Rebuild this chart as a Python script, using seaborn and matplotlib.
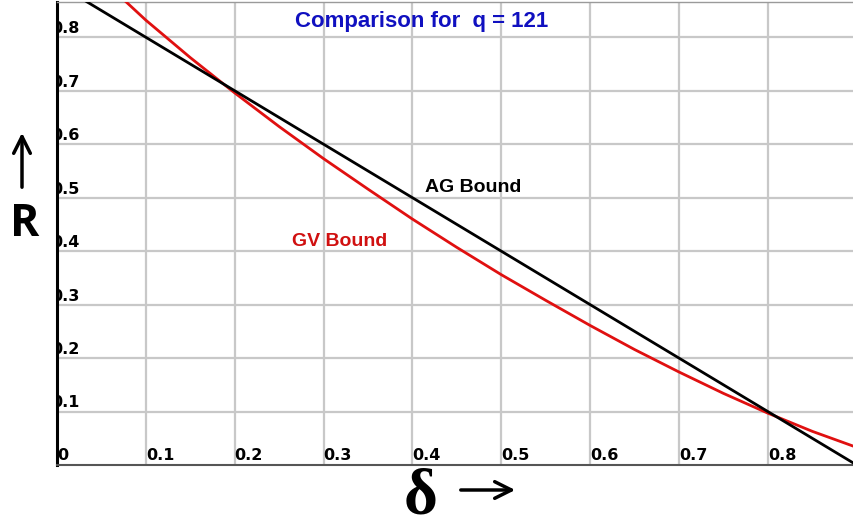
import pandas as pd
import seaborn as sns
import matplotlib.pyplot as plt
from matplotlib.patches import FancyArrowPatch

# Data
gv_delta = [0.05, 0.10, 0.15, 0.20, 0.25, 0.30, 0.35, 0.40, 0.45, 0.50,
            0.55, 0.60, 0.65, 0.70, 0.75, 0.80, 0.85, 0.90]
gv_rate = [0.909, 0.832, 0.762, 0.696, 0.633, 0.573, 0.516, 0.460, 0.407, 0.356,
           0.308, 0.261, 0.216, 0.174, 0.134, 0.097, 0.063, 0.033]
ag_delta = [0.0, 0.9]
ag_rate = [0.9, 0.0]
tick_vals = [0.1, 0.2, 0.3, 0.4, 0.5, 0.6, 0.7, 0.8]
tick_labels = ['0.1', '0.2', '0.3', '0.4', '0.5', '0.6', '0.7', '0.8']

gv = pd.DataFrame({'delta': gv_delta, 'R': gv_rate})
ag = pd.DataFrame({'delta': ag_delta, 'R': ag_rate})

sns.set_style('white')
plt.rcParams['font.family'] = ['Liberation Sans', 'DejaVu Sans']
plt.rcParams['text.color'] = 'black'

fig = plt.figure(figsize=(8.54, 5.29), dpi=100)
ax = fig.add_axes([57 / 854, 64 / 529, 1 - 57 / 854, 463 / 529])

sns.lineplot(data=gv, x='delta', y='R', color='#e01010', linewidth=2, ax=ax, zorder=3)
sns.lineplot(data=ag, x='delta', y='R', color='black', linewidth=2, ax=ax, zorder=4)

ax.set_xlim(0, 0.897)
ax.set_ylim(0, 0.866)
ax.set_xticks(tick_vals)
ax.set_yticks(tick_vals)
ax.grid(True, color='#c8c8c8', linewidth=1.6)
ax.tick_params(length=0, labelbottom=False, labelleft=False)
ax.set_xlabel('')
ax.set_ylabel('')

ax.spines['right'].set_visible(False)
ax.spines['top'].set_color('#9a9a9a')
ax.spines['top'].set_linewidth(1)
ax.spines['left'].set_color('black')
ax.spines['left'].set_linewidth(2.2)
ax.spines['bottom'].set_color('#555555')
ax.spines['bottom'].set_linewidth(1.5)

# tick labels drawn inside the axes, as in the reference
lab_font = dict(fontsize=11.5, fontweight='bold', family=['DejaVu Sans'], color='black')
for v, t in zip(tick_vals, tick_labels):
    ax.text(v, 0.003, t, ha='left', va='bottom', **lab_font)
    ax.text(-0.006, v + 0.002, t, ha='left', va='bottom', clip_on=True, **lab_font)
ax.text(0.0, 0.003, '0', ha='left', va='bottom', clip_on=True, **lab_font)

ax.text((422 - 57) / 797, (465 - 22) / 463, 'Comparison for  q = 121',
        transform=ax.transAxes, ha='center', va='center', color='#1010c0',
        fontsize=16, fontweight='bold')
ax.text(0.414, 0.519, 'AG Bound', ha='left', va='center', color='black',
        fontsize=14, fontweight='bold')
ax.text(0.265, 0.418, 'GV Bound', ha='left', va='center', color='#d01010',
        fontsize=14, fontweight='bold')

# axis names with arrows, outside the axes
fig.text(25 / 854, 1 - 224 / 529, 'R', ha='center', va='center', fontsize=32,
         fontweight='bold', color='black', family=['Open Sans', 'DejaVu Sans'])
fig.text(421 / 854, 1.5 / 529, '\u03b4', ha='center', va='bottom', fontsize=47,
         fontweight='bold', color='black', family=['Liberation Serif'])
fig.add_artist(FancyArrowPatch(
    (22 / 854, 1 - 190 / 529), (22 / 854, 1 - 130 / 529),
    transform=fig.transFigure, arrowstyle='->', lw=2.5, color='black',
    mutation_scale=30))
fig.add_artist(FancyArrowPatch(
    (458 / 854, 1 - 490 / 529), (518 / 854, 1 - 490 / 529),
    transform=fig.transFigure, arrowstyle='->', lw=2.5, color='black',
    mutation_scale=30))

fig.savefig('out.png', dpi=100)
